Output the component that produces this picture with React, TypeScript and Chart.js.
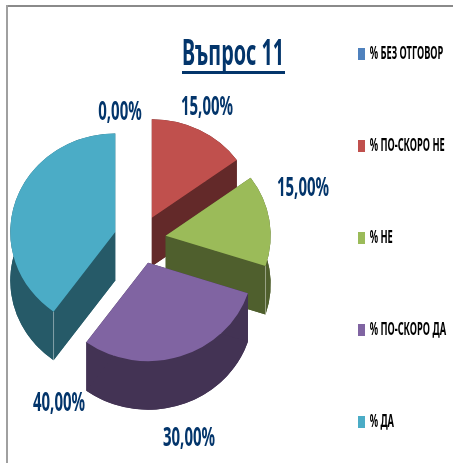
import React, { useEffect, useRef } from "react";
import { Chart, registerables } from "chart.js";

Chart.register(...registerables);

const categories = ["% БЕЗ ОТГОВОР", "% ПО-СКОРО НЕ", "% НЕ", "% ПО-СКОРО ДА", "% ДА"];
const values = [0, 15, 15, 30, 40];
const topColors = ["#4f81bd", "#c0504d", "#9bbb59", "#8064a2", "#4bacc6"];
const sideColors = ["#2a4564", "#632929", "#4f5f2d", "#433354", "#265a68"];
const drawOrder = [0, 1, 2, 4, 3];
const labelAnchors = [[120, 112], [207, 107], [303, 188], [189, 438], [59, 403]];

const NAVY = "#03356b";
const FONT = '"Noto Sans", sans-serif';
const CENTER = { x: 140, y: 239.5 };
const SQUASH = 0.938;
const RADIUS = 105;
const EXPLODE = 26;
const DEPTH = 48.5;
const LABEL_WIDTH = 52;

const pie3d = {
  id: "pie3d",
  beforeDatasetDraw(chart: any, args: any) {
    const { ctx } = chart;
    const arcs = args.meta.data;
    ctx.save();
    ctx.translate(CENTER.x, CENTER.y);
    ctx.scale(1, SQUASH);
    const d = DEPTH / SQUASH;
    for (const i of drawOrder) {
      const arc = arcs[i];
      const a0 = arc.startAngle;
      const a1 = arc.endAngle;
      if (a1 - a0 <= 0) continue;
      const mid = (a0 + a1) / 2;
      const px = Math.cos(mid) * EXPLODE;
      const py = Math.sin(mid) * EXPLODE;
      const r = arc.outerRadius;
      ctx.fillStyle = sideColors[i];
      ctx.beginPath();
      ctx.moveTo(px, py + d);
      ctx.arc(px, py + d, r, a0, a1);
      ctx.closePath();
      ctx.fill();
      ctx.beginPath();
      ctx.arc(px, py, r, a0, a1);
      ctx.arc(px, py + d, r, a1, a0, true);
      ctx.closePath();
      ctx.fill();
      for (const a of [a0, a1]) {
        const ex = px + Math.cos(a) * r;
        const ey = py + Math.sin(a) * r;
        ctx.beginPath();
        ctx.moveTo(px, py);
        ctx.lineTo(ex, ey);
        ctx.lineTo(ex, ey + d);
        ctx.lineTo(px, py + d);
        ctx.closePath();
        ctx.fill();
      }
      // pale highlight on the vertical corner where a cut face meets the outer wall
      const corner = i === 2 ? a1 : i === 4 ? a0 : null;
      if (corner !== null) {
        const cx = px + Math.cos(corner) * r;
        const cy = py + Math.sin(corner) * r;
        ctx.strokeStyle = "rgba(255,255,255,0.45)";
        ctx.lineWidth = 1;
        ctx.beginPath();
        ctx.moveTo(cx, cy);
        ctx.lineTo(cx, cy + d);
        ctx.stroke();
      }
      ctx.save();
      ctx.translate(px - arc.x, py - arc.y);
      arc.draw(ctx);
      ctx.restore();
    }
    ctx.restore();
    return false;
  },
  afterDatasetsDraw(chart: any) {
    const { ctx } = chart;
    ctx.save();
    ctx.font = `bold 27px ${FONT}`;
    ctx.fillStyle = NAVY;
    ctx.textAlign = "center";
    ctx.textBaseline = "middle";
    const sx = LABEL_WIDTH / ctx.measureText("15,00%").width;
    values.forEach((v, i) => {
      const text = v.toFixed(2).replace(".", ",") + "%";
      ctx.save();
      ctx.translate(labelAnchors[i][0], labelAnchors[i][1]);
      ctx.scale(sx, 1);
      ctx.fillText(text, 0, 0);
      ctx.restore();
    });
    ctx.restore();
  },
  beforeDraw(chart: any) {
    const { ctx, width, height } = chart;
    ctx.save();
    ctx.fillStyle = "#ffffff";
    ctx.fillRect(0, 0, width, height);
    ctx.fillStyle = "#8a8a8a";
    ctx.fillRect(6, 5, width - 6, 2);
    ctx.fillStyle = "#a0a0a0";
    ctx.fillRect(6, 5, 2, height - 5);
    ctx.restore();
  },
  afterLayout(chart: any) {
    const { ctx } = chart;
    const title = chart.titleBlock;
    if (title && !title.__wrapped) {
      title.__wrapped = true;
      const draw = title.draw.bind(title);
      title.draw = () => {
        ctx.save();
        ctx.font = `bold 36px ${FONT}`;
        const sx = 102 / ctx.measureText("Въпрос 11").width;
        ctx.translate(182, 33);
        ctx.scale(sx, 1);
        ctx.translate(-title.left, -title.top);
        draw();
        ctx.restore();
        ctx.save();
        ctx.fillStyle = NAVY;
        ctx.fillRect(182, 71, 103, 3);
        ctx.restore();
      };
    }
    const legend = chart.legend;
    if (legend && !legend.__wrapped) {
      legend.__wrapped = true;
      const draw = legend.draw.bind(legend);
      const pad = legend.options.labels.padding;
      legend.draw = () => {
        ctx.save();
        ctx.translate(358, 45);
        ctx.scale(1.03, 2);
        ctx.translate(-(legend.left + pad), -(legend.top + pad));
        draw();
        ctx.restore();
      };
    }
  },
};

export default function App() {
  const ref = useRef<HTMLCanvasElement>(null);
  useEffect(() => {
    document.body.style.margin = "0";
    const chart = new Chart(ref.current as HTMLCanvasElement, {
      type: "pie",
      data: {
        labels: categories,
        datasets: [{ data: values, backgroundColor: topColors, borderWidth: 0 }],
      },
      options: {
        animation: false,
        responsive: false,
        radius: RADIUS,
        plugins: {
          title: {
            display: true,
            text: "Въпрос 11",
            align: "start",
            color: NAVY,
            padding: 0,
            font: { family: FONT, size: 36, weight: "bold" },
          },
          legend: {
            display: true,
            position: "right",
            align: "start",
            labels: {
              color: "#000000",
              boxWidth: 6.8,
              boxHeight: 6,
              padding: 37,
              font: { family: FONT, size: 9, weight: "bold" },
            },
          },
          tooltip: { enabled: false },
        },
      } as any,
      plugins: [pie3d],
    });
    return () => chart.destroy();
  }, []);
  return <canvas ref={ref} width={453} height={463} style={{ display: "block" }} />;
}
